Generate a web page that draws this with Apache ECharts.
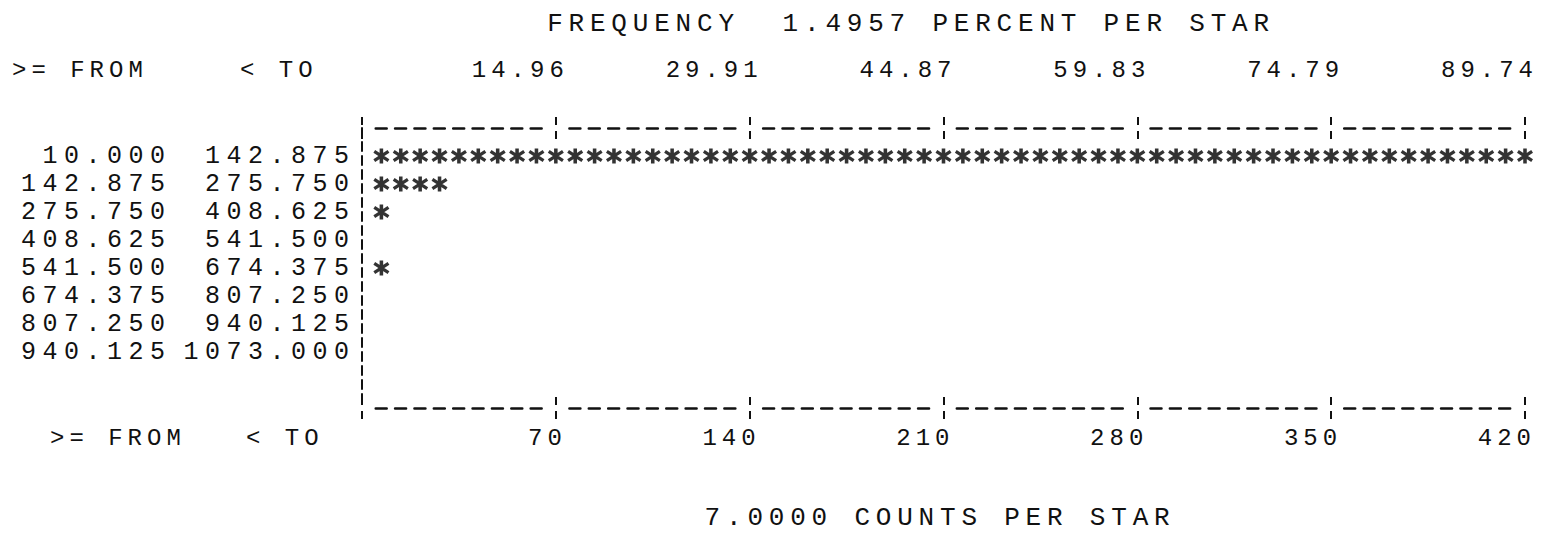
<!DOCTYPE html>
<html>
<head>
<meta charset="utf-8">
<script src="https://cdn.jsdelivr.net/npm/echarts@6/dist/echarts.min.js"></script>
<style>
  html, body { margin: 0; padding: 0; background: #fff; }
  #chart { width: 1542px; height: 549px; }
  #chart text { letter-spacing: 5px; white-space: pre; }
  #chart text[style*="25px"] { letter-spacing: 6.5px; }
  #chart text[style*="26px"] { letter-spacing: 5.8px; }
</style>
</head>
<body>
<div id="chart"></div>
<script>
// ---- data ----
const titleTop = 'FREQUENCY  1.4957 PERCENT PER STAR';
const titleBottom = '7.0000 COUNTS PER STAR';
const headerFrom = '>= FROM';
const headerTo = '< TO';
const fromLabels = ['10.000', '142.875', '275.750', '408.625', '541.500', '674.375', '807.250', '940.125'];
const toLabels = ['142.875', '275.750', '408.625', '541.500', '674.375', '807.250', '940.125', '1073.000'];
const counts = [420, 29, 8, 3, 7, 1, 0, 0];
const countsPerStar = 7;
const countTickStep = 70;
const countTicks = ['', '70', '140', '210', '280', '350', '420'];
const percentTicks = ['', '14.96', '29.91', '44.87', '59.83', '74.79', '89.74'];

// ---- build star marks from the counts ----
const stars = [];
counts.forEach((c, row) => {
  const n = Math.floor(c / countsPerStar);
  for (let i = 1; i <= n; i++) stars.push([i * countsPerStar, row + 1]);
});

const INK = '#111';
const FONT = 'Liberation Mono';
const FS = 24;       // tick labels, headers
const FS_ROW = 25;   // bin edge labels
const FS_TITLE = 26; // titles
const xMax = countTickStep * (countTicks.length - 1);
const rowsMax = counts.length + 2;

const asterisk = 'path://M39 0H61V100H39Z M0.5 28.5L11.5 9.5L99.5 71.5L88.5 90.5Z M11.5 90.5L0.5 71.5L88.5 9.5L99.5 28.5Z';

// character-style dashes: 9 dashes between ticks, none on the tick column
const dashPattern = [];
for (let i = 0; i < 8; i++) dashPattern.push(11, 8.37);
dashPattern.push(11, 27.74);
const lineStyleH = { color: INK, width: 2.5, type: dashPattern, dashOffset: 179.83 };
const tickStyle = { color: INK, width: 2, type: [8, 3], dashOffset: 8 };

function xAxisBase(position, inside) {
  return {
    type: 'value', position: position, min: 0, max: xMax, interval: countTickStep,
    axisLine: { show: false, onZero: false },
    axisTick: { show: true, inside: inside, length: 11, lineStyle: tickStyle },
    axisLabel: { show: false },
    splitLine: { show: false }
  };
}

const bottomAxis = xAxisBase('bottom', false);
bottomAxis.axisLine = { show: true, onZero: false, lineStyle: lineStyleH };
bottomAxis.axisLabel = {
  show: true, margin: 30, verticalAlign: 'middle', align: 'right', padding: [0, -11, 0, 0],
  color: INK, fontFamily: FONT, fontSize: FS,
  formatter: v => countTicks[Math.round(v / countTickStep)] || ''
};
const topAxis = xAxisBase('top', false);
topAxis.axisLine = { show: true, onZero: false, lineStyle: lineStyleH };
topAxis.axisLabel = {
  show: true, margin: 58, verticalAlign: 'middle', align: 'right', padding: [0, -13, 0, 0],
  color: INK, fontFamily: FONT, fontSize: FS,
  formatter: v => percentTicks[Math.round(v / countTickStep)] || ''
};

function textEl(x, y, text, align, size) {
  return {
    type: 'text', x: x, y: y, silent: true,
    style: { text: text, fill: INK, font: (size || FS) + 'px "' + FONT + '"', textAlign: align, textVerticalAlign: 'middle' }
  };
}

const chart = echarts.init(document.getElementById('chart'), null, { renderer: 'svg' });
chart.setOption({
  animation: false,
  backgroundColor: '#fff',
  grid: { left: 362, right: 17, top: 128, bottom: 141, containLabel: false },
  xAxis: [bottomAxis, xAxisBase('bottom', true), topAxis, xAxisBase('top', true)],
  yAxis: [
    {
      type: 'value', inverse: true, min: 0, max: rowsMax, interval: 1, position: 'left',
      axisLine: { show: true, onZero: false, lineStyle: { color: INK, width: 2, type: [9, 5] } },
      axisTick: { show: false }, splitLine: { show: false },
      axisLabel: {
        margin: 6.5, color: INK, fontFamily: FONT, fontSize: FS_ROW,
        formatter: v => toLabels[v - 1] || ''
      }
    },
    {
      type: 'value', inverse: true, min: 0, max: rowsMax, interval: 1, position: 'left', offset: 190.5,
      axisLine: { show: false, onZero: false }, axisTick: { show: false }, splitLine: { show: false },
      axisLabel: {
        margin: 0, color: INK, fontFamily: FONT, fontSize: FS_ROW,
        formatter: v => fromLabels[v - 1] || ''
      }
    }
  ],
  series: [{
    type: 'scatter', xAxisIndex: 0, yAxisIndex: 0, data: stars,
    symbol: asterisk, symbolSize: [16, 15], clip: false,
    itemStyle: { color: '#000' }, silent: true
  }],
  graphic: [
    textEl(911, 24, titleTop, 'center', FS_TITLE),
    textEl(12, 70, headerFrom, 'left'),
    textEl(240, 70, headerTo, 'left'),
    textEl(50, 438, headerFrom, 'left'),
    textEl(246, 438, headerTo, 'left'),
    textEl(940, 518, titleBottom, 'center', FS_TITLE)
  ]
});
</script>
</body>
</html>
